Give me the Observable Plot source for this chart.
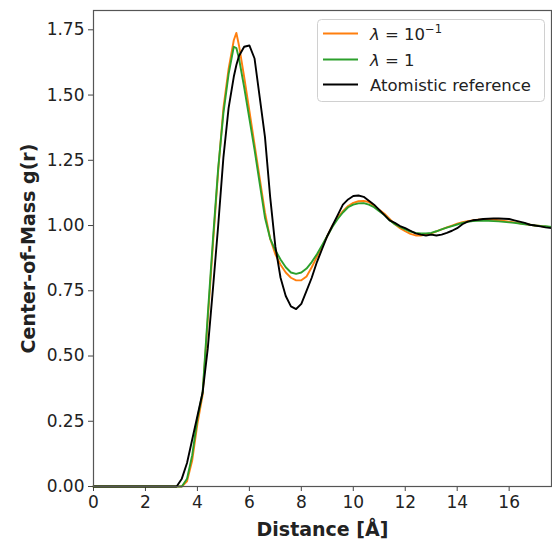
<!DOCTYPE html>
<html>
<head>
<meta charset="utf-8">
<script src="https://cdn.jsdelivr.net/npm/d3@7"></script>
<script src="https://cdn.jsdelivr.net/npm/@observablehq/plot@0.6"></script>
<style>
  html, body { margin: 0; padding: 0; background: #fff; }
  #chart svg { display: block; }
</style>
</head>
<body>
<div id="chart"></div>
<script>
// Distance grid (Å)
const distance = [0, 3.0, 3.2, 3.4, 3.6, 3.8, 4.0, 4.2, 4.4, 4.6, 4.8, 5.0, 5.2, 5.4, 5.5, 5.6, 5.8, 6.0, 6.2, 6.4, 6.6, 6.8, 7.0, 7.2, 7.4, 7.6, 7.8, 8.0, 8.2, 8.4, 8.6, 8.8, 9.0, 9.2, 9.4, 9.6, 9.8, 10.0, 10.2, 10.4, 10.6, 10.8, 11.0, 11.2, 11.4, 11.6, 11.8, 12.0, 12.2, 12.4, 12.6, 12.8, 13.0, 13.2, 13.4, 13.6, 13.8, 14.0, 14.2, 14.4, 14.6, 14.8, 15.0, 15.2, 15.4, 15.6, 15.8, 16.0, 16.2, 16.4, 16.6, 16.8, 17.0, 17.2, 17.4, 17.63];

// lambda = 10^-1
const gLambda01 = [0, 0, 0, 0.0, 0.02, 0.10, 0.24, 0.35, 0.64, 0.93, 1.21, 1.45, 1.60, 1.71, 1.738, 1.69, 1.57, 1.44, 1.31, 1.18, 1.05, 0.95, 0.89, 0.85, 0.82, 0.80, 0.79, 0.79, 0.805, 0.84, 0.88, 0.92, 0.96, 1.0, 1.03, 1.055, 1.075, 1.087, 1.093, 1.094, 1.09, 1.075, 1.06, 1.045, 1.025, 1.005, 0.99, 0.978, 0.968, 0.962, 0.962, 0.965, 0.97, 0.978, 0.985, 0.993, 1.0, 1.007, 1.013, 1.017, 1.02, 1.022, 1.023, 1.023, 1.022, 1.02, 1.018, 1.015, 1.012, 1.009, 1.006, 1.003, 1.0, 0.998, 0.996, 0.994];

// lambda = 1
const gLambda1 = [0, 0, 0, 0.0, 0.03, 0.12, 0.26, 0.36, 0.66, 0.95, 1.22, 1.43, 1.58, 1.685, 1.68, 1.64, 1.53, 1.41, 1.29, 1.16, 1.03, 0.95, 0.905, 0.87, 0.84, 0.82, 0.815, 0.82, 0.835, 0.86, 0.89, 0.925, 0.96, 0.995, 1.025, 1.05, 1.07, 1.08, 1.085, 1.086, 1.08, 1.07, 1.055, 1.04, 1.02, 1.005, 0.995, 0.985, 0.977, 0.972, 0.97, 0.97, 0.972, 0.978, 0.985, 0.992, 0.998, 1.004, 1.01, 1.014, 1.017, 1.018, 1.018, 1.018, 1.017, 1.016, 1.014, 1.012, 1.01, 1.008, 1.005, 1.003, 1.0, 0.998, 0.997, 0.995];

// Atomistic reference
const gAtomistic = [0, 0, 0, 0.03, 0.09, 0.18, 0.27, 0.36, 0.53, 0.76, 1.00, 1.26, 1.45, 1.57, 1.615, 1.65, 1.685, 1.69, 1.64, 1.49, 1.34, 1.11, 0.92, 0.80, 0.73, 0.69, 0.68, 0.70, 0.75, 0.80, 0.86, 0.91, 0.96, 1.00, 1.04, 1.08, 1.10, 1.113, 1.115, 1.11, 1.095, 1.08, 1.06, 1.04, 1.02, 1.01, 0.998, 0.99, 0.98, 0.97, 0.965, 0.962, 0.965, 0.962, 0.965, 0.972, 0.98, 0.99, 1.005, 1.015, 1.02, 1.022, 1.025, 1.026, 1.027, 1.027, 1.026, 1.025, 1.02, 1.015, 1.01, 1.003, 1.0, 0.997, 0.993, 0.99];

const xTicks = [0, 2, 4, 6, 8, 10, 12, 14, 16];
const yTicks = [0, 0.25, 0.5, 0.75, 1.0, 1.25, 1.5, 1.75];

const seriesNames = ["lambda01", "lambda1", "atomistic"];
const seriesColors = ["#ff7f0e", "#2ca02c", "#000000"];
const seriesValues = [gLambda01, gLambda1, gAtomistic];

const table = [];
seriesNames.forEach((name, s) => {
  distance.forEach((d, i) => table.push({series: name, x: d, y: seriesValues[s][i]}));
});

const fontFam = "DejaVu Sans, sans-serif";

const plot = Plot.plot({
  width: 552,
  height: 545,
  marginLeft: 93,
  marginRight: 1,
  marginTop: 10,
  marginBottom: 59,
  style: {fontFamily: fontFam, background: "#fff", color: "#222"},
  x: {domain: [0, 17.63]},
  y: {domain: [0, 1.824]},
  color: {domain: seriesNames, range: seriesColors},
  marks: [
    Plot.axisX({ticks: xTicks, tickSize: 5, tickPadding: 4, fontSize: 17, label: null, stroke: "#444"}),
    Plot.axisY({ticks: yTicks, tickSize: 5, tickPadding: 4, fontSize: 17, tickFormat: d3.format(".2f"), label: null, stroke: "#444"}),
    Plot.line(table, {x: "x", y: "y", z: "series", stroke: "series", strokeWidth: 1.9, strokeLinejoin: "round"}),
    Plot.frame({stroke: "#555", strokeWidth: 1.2}),
    Plot.text([0], {frameAnchor: "bottom", text: () => "Distance [Å]", dy: 49, fontSize: 19, fontWeight: "bold", fill: "#222", textAnchor: "middle"}),
    Plot.text([0], {frameAnchor: "left", text: () => "Center-of-Mass g(r)", dx: -65, rotate: -90, fontSize: 19, fontWeight: "bold", fill: "#222", textAnchor: "middle"})
  ]
});

document.getElementById("chart").appendChild(plot);

// Legend
const svg = d3.select(plot);
const lg = svg.append("g").attr("font-family", fontFam).attr("font-size", 16.5)
  .attr("fill", "#222").attr("text-anchor", "start");
lg.append("rect").attr("x", 317.5).attr("y", 19.5).attr("width", 227).attr("height", 82)
  .attr("rx", 4).attr("fill", "#fff").attr("fill-opacity", 0.85).attr("stroke", "#d0d0d0");
const rows = [33.5, 59.5, 84.5];
rows.forEach((yy, i) => {
  lg.append("line").attr("x1", 323).attr("x2", 358).attr("y1", yy).attr("y2", yy)
    .attr("stroke", seriesColors[i]).attr("stroke-width", 1.9);
});
const t1 = lg.append("text").attr("x", 370).attr("y", rows[0] + 6);
t1.append("tspan").attr("font-style", "italic").text("λ");
t1.append("tspan").text(" = 10");
t1.append("tspan").attr("font-size", 11.5).attr("dy", -7).text("−1");
const t2 = lg.append("text").attr("x", 370).attr("y", rows[1] + 6);
t2.append("tspan").attr("font-style", "italic").text("λ");
t2.append("tspan").text(" = 1");
lg.append("text").attr("x", 370).attr("y", rows[2] + 6).text("Atomistic reference");
</script>
</body>
</html>
